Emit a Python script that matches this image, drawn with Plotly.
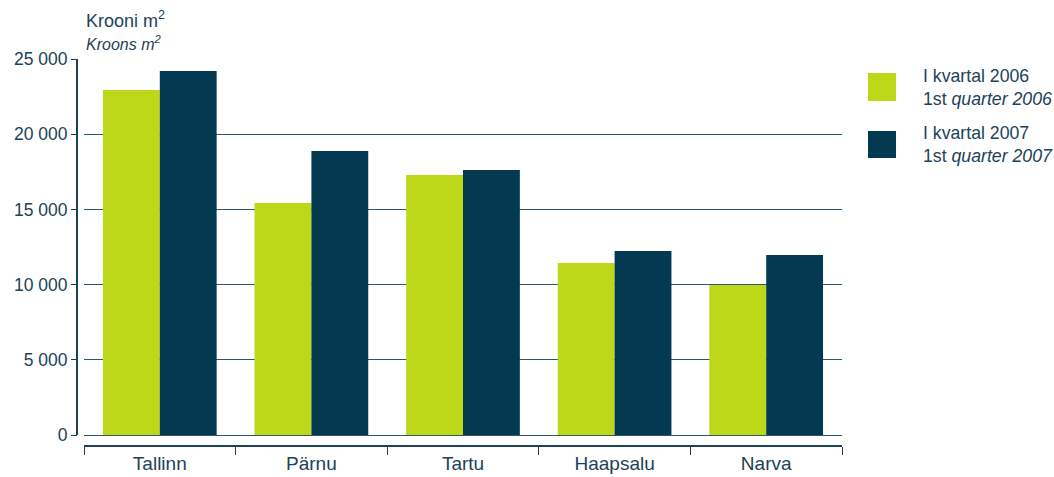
import plotly.graph_objects as go

cities = ["Tallinn", "Pärnu", "Tartu", "Haapsalu", "Narva"]
q1_2006 = [22940, 15430, 17290, 11440, 9970]
q1_2007 = [24200, 18880, 17620, 12230, 11970]
series_names = ["I kvartal 2006<br>1st <i>quarter 2006</i>", "I kvartal 2007<br>1st <i>quarter 2007</i>"]
y_ticks = [0, 5000, 10000, 15000, 20000, 25000]

GREEN = "#bdd719"
DARK = "#033a52"
TXT = "#1d4258"
FONT = "Liberation Sans, Arial, sans-serif"

fig = go.Figure()
fig.add_trace(go.Bar(x=cities, y=q1_2006, marker=dict(color=GREEN, line=dict(width=0)), showlegend=False))
fig.add_trace(go.Bar(x=cities, y=q1_2007, marker=dict(color=DARK, line=dict(width=0)), showlegend=False))

fig.update_layout(
    width=1054, height=477,
    margin=dict(l=77, r=212, t=59, b=32, autoexpand=False),
    paper_bgcolor="white", plot_bgcolor="white",
    barmode="group", bargap=0.25, bargroupgap=0,
    separators=", ",
    font=dict(family=FONT, size=17.5, color=TXT),
    xaxis=dict(domain=[7/765, 1], showline=True, linecolor=TXT, linewidth=2, automargin=False,
               ticks="outside", tickson="boundaries", ticklen=8, tickcolor=TXT, tickwidth=1,
               showgrid=False, tickfont=dict(size=19, color=TXT)),
    yaxis=dict(anchor="free", position=0, range=[-665, 25000], tickvals=y_ticks, automargin=False,
               tickformat=",d", showgrid=True, gridcolor="#2f566b", gridwidth=1,
               zeroline=False, showline=False, ticks="outside", ticklen=6,
               tickcolor=TXT, tickwidth=1, tickfont=dict(size=17.5, color=TXT)),
)

# y-axis line from 0 to top
fig.add_shape(type="line", xref="paper", yref="y", x0=0, x1=0, y0=0, y1=y_ticks[-1],
              line=dict(color=TXT, width=2))

# unit title
fig.add_annotation(xref="paper", yref="paper", x=7/765, y=1.075, xanchor="left", yanchor="middle",
                   text="Krooni m<sup>2</sup><br><i><span style='font-size:16px'>Kroons m<sup>2</sup></span></i>",
                   showarrow=False, align="left", font=dict(size=18, color=TXT))

# legend
colors = [GREEN, DARK]
sq_y = [(0.8912, 0.9637), (0.7435, 0.8135)]
for c, (y0, y1), name in zip(colors, sq_y, series_names):
    fig.add_shape(type="rect", xref="paper", yref="paper", x0=(868-77)/765, x1=(896-77)/765,
                  y0=y0, y1=y1, fillcolor=c, line=dict(width=0))
    fig.add_annotation(xref="paper", yref="paper", x=(921-77)/765, y=(y0+y1)/2,
                       xanchor="left", yanchor="middle", text=name, showarrow=False,
                       align="left", font=dict(size=17.7, color=TXT))

fig.write_html("out.html", config={"displayModeBar": False},
               post_script="document.body.style.margin='0';document.body.style.overflow='hidden';")
